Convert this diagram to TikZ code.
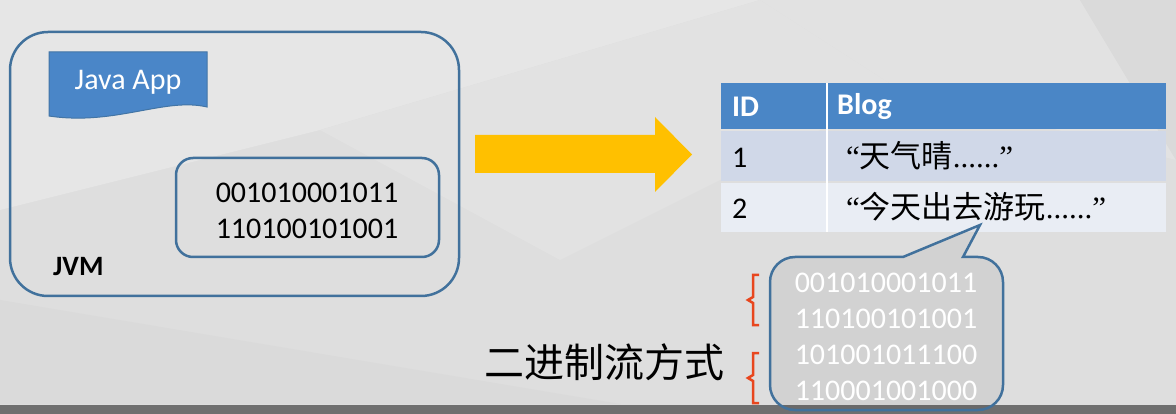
\documentclass[tikz,border=0pt]{standalone}
\usepackage{fontspec}
\setmainfont{Carlito}
\newfontfamily\cjk{Noto Sans CJK SC}
\newfontfamily\quotefont{Liberation Serif}
\definecolor{bgbase}{HTML}{DEDEDE}
\definecolor{bglight}{HTML}{E6E6E6}
\definecolor{bgmid}{HTML}{E2E2E2}
\definecolor{bgdark}{HTML}{DADADA}
\definecolor{barcol}{HTML}{6F6F6F}
\definecolor{boxline}{HTML}{41719C}
\definecolor{appblue}{HTML}{4A86C8}
\definecolor{hdrblue}{HTML}{4A86C6}
\definecolor{rowone}{HTML}{D0D8E8}
\definecolor{rowtwo}{HTML}{E9EDF4}
\definecolor{arrowgold}{HTML}{FFC000}
\definecolor{bracketred}{HTML}{E8461E}
\tikzset{
  boxedge/.style={draw=boxline, line width=2.5pt},
  bintext/.style={font=\fontsize{30}{36}\selectfont, align=center, inner sep=0pt},
  celltext/.style={font=\fontsize{30}{32}\selectfont, anchor=west, inner sep=0pt},
  hdrtext/.style={font=\fontsize{30}{32}\selectfont\bfseries, text=white, anchor=west, inner sep=0pt},
  cjktext/.style={font=\fontsize{31}{34}\selectfont\cjk, anchor=west, inner sep=0pt},
  bracketline/.style={draw=bracketred, line width=2.5pt, line join=miter},
}
\begin{document}
\begin{tikzpicture}[x=1pt,y=-1pt]
\useasboundingbox (0,0) rectangle (1176,414);
% background
\fill[bgbase] (0,0) rectangle (1176,414);
\fill[bglight] (0,0) -- (760,0) -- (320,130) -- (0,210) -- cycle;
\fill[bgmid] (760,0) -- (1080,0) -- (1176,160) -- (900,90) -- cycle;
\fill[bgdark] (1080,0) -- (1176,0) -- (1176,160) -- cycle;
\fill[bgdark] (0,300) -- (620,404) -- (0,404) -- cycle;
\fill[bgmid] (320,130) -- (760,0) -- (900,90) -- (560,260) -- cycle;
% bottom bar
\fill[barcol] (0,405) rectangle (1176,414);

% JVM box
\draw[boxedge, rounded corners=38pt] (10,32) rectangle (459,296);
\node[font=\fontsize{28}{30}\selectfont\bfseries, anchor=west, inner sep=0pt] (jvm) at (53,267) {JVM};
% Java App document shape
\draw[fill=appblue, draw=boxline!80!appblue, line width=1pt] (49,52) -- (207,52) -- (207,107)
  .. controls (165,97) and (115,126) .. (49,116) -- cycle;
\node[font=\fontsize{30}{32}\selectfont, text=white, inner sep=0pt] (app) at (128,82) {Java App};
% inner box
\draw[boxedge, rounded corners=17pt] (176,158) rectangle (439,257);
\node[bintext] (bin1) at (307,211) {001010001011\\110100101001};

% yellow arrow
\fill[arrowgold] (475,135) -- (655,135) -- (655,117) -- (692,154.5) -- (655,192) -- (655,173) -- (475,173) -- cycle;

% table
\fill[hdrblue] (721,83) rectangle (1166,129);
\fill[rowone] (721,131) rectangle (1166,181);
\fill[rowtwo] (721,183) rectangle (1166,232);
\draw[white, line width=2pt] (827,83) -- (827,232);
\node[hdrtext] (hid) at (732,107) {ID};
\node[hdrtext] (hblog) at (837,107) {Blog};
\node[celltext] (r1id) at (732,158) {1};
\node[celltext] (r2id) at (732,209) {2};
\node[cjktext] (r1blog) at (846,156) {{\quotefont“}天气晴{\quotefont......”}};
\node[cjktext] (r2blog) at (846,207) {{\quotefont“}今天出去游玩{\quotefont......”}};

% callout
\draw[boxedge, fill=black, fill opacity=0.05] (903,257) -- (980,225) -- (963,257) -- (978,257)
  .. controls (991.8,257) and (1003,268.2) .. (1003,282) -- (1003,385)
  .. controls (1003,398.8) and (991.8,410) .. (978,410) -- (795,410)
  .. controls (781.2,410) and (770,398.8) .. (770,385) -- (770,282)
  .. controls (770,268.2) and (781.2,257) .. (795,257) -- cycle;
\node[bintext, text=white] (bin2) at (886,337) {001010001011\\110100101001\\101001011100\\110001001000};

% brackets
\draw[bracketline] (759,275) -- (753,275) -- (753,297) -- (748,300) -- (753,303) -- (753,325) -- (759,325);
\draw[bracketline] (759,353) -- (753,353) -- (753,375) -- (748,378) -- (753,381) -- (753,403) -- (759,403);

% label
\node[font=\fontsize{40}{44}\selectfont\cjk, inner sep=0pt] (stream) at (604,362) {二进制流方式};
\end{tikzpicture}
\end{document}
